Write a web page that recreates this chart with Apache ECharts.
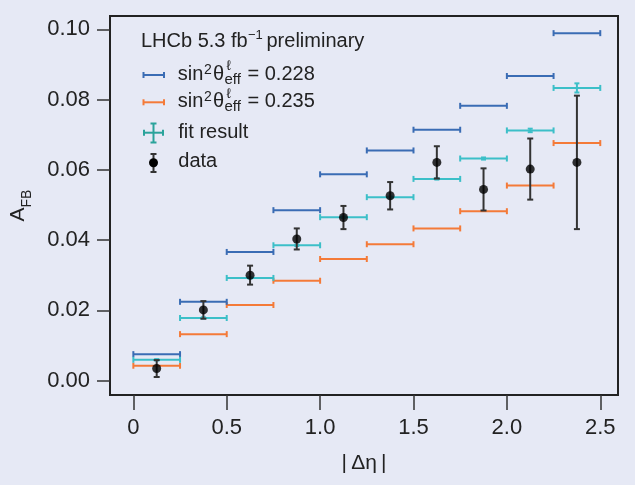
<!DOCTYPE html>
<html><head><meta charset="utf-8">
<script src="https://cdn.jsdelivr.net/npm/echarts@6/dist/echarts.min.js"></script>
<style>html,body{margin:0;padding:0;background:#e6e9f5}#c{width:635px;height:485px}</style>
</head><body><div id="c"></div>
<script>
// ---- data ----
const binLow  = [0, 0.25, 0.5, 0.75, 1.0, 1.25, 1.5, 1.75, 2.0, 2.25];
const binHigh = [0.25, 0.5, 0.75, 1.0, 1.25, 1.5, 1.75, 2.0, 2.25, 2.5];
const afb228 = [0.0075, 0.0224, 0.0366, 0.0485, 0.0587, 0.0655, 0.0714, 0.0782, 0.0867, 0.0989];
const afb235 = [0.0042, 0.0132, 0.0215, 0.0284, 0.0346, 0.0388, 0.0433, 0.0482, 0.0555, 0.0676];
const fitValues = [0.0059, 0.0178, 0.0292, 0.0385, 0.0465, 0.0522, 0.0574, 0.0632, 0.0712, 0.0833];
const fitErrors = [0.0002, 0.0002, 0.0002, 0.0002, 0.0002, 0.0002, 0.0002, 0.0003, 0.0005, 0.0013];
const dataValues = [0.0034, 0.0201, 0.0300, 0.0403, 0.0464, 0.0526, 0.0621, 0.0544, 0.0602, 0.0621];
const dataErrors = [0.0024, 0.0025, 0.0027, 0.0030, 0.0033, 0.0039, 0.0046, 0.0060, 0.0087, 0.0190];
const xTicks = [0, 0.5, 1.0, 1.5, 2.0, 2.5];
const yTicks = [0, 0.02, 0.04, 0.06, 0.08, 0.10];

const FONT = 'Liberation Sans';
const C_BLUE = '#3a6cb4', C_ORANGE = '#f47a38', C_CYAN = '#3cbfc8', C_TEAL = '#2aa39b';

function hbarRender(color) {
  return function (params, api) {
    const y = api.value(2);
    const lo = api.coord([api.value(0), y]);
    const hi = api.coord([api.value(1), y]);
    const st = { stroke: color, lineWidth: 2 };
    const ch = [
      { type: 'line', shape: { x1: lo[0], y1: lo[1], x2: hi[0], y2: hi[1] }, style: st },
      { type: 'line', shape: { x1: lo[0], y1: lo[1] - 3, x2: lo[0], y2: lo[1] + 3 }, style: st },
      { type: 'line', shape: { x1: hi[0], y1: hi[1] - 3, x2: hi[0], y2: hi[1] + 3 }, style: st }
    ];
    const e = api.value(3);
    if (e) {
      const xc = (api.value(0) + api.value(1)) / 2;
      const t = api.coord([xc, y + e]);
      const b = api.coord([xc, y - e]);
      ch.push({ type: 'line', shape: { x1: t[0], y1: t[1], x2: b[0], y2: b[1] }, style: st });
      ch.push({ type: 'line', shape: { x1: t[0] - 2.5, y1: t[1], x2: t[0] + 2.5, y2: t[1] }, style: st });
      ch.push({ type: 'line', shape: { x1: b[0] - 2.5, y1: b[1], x2: b[0] + 2.5, y2: b[1] }, style: st });
    }
    return { type: 'group', children: ch };
  };
}
function vbarRender(params, api) {
  const x = api.value(0);
  const t = api.coord([x, api.value(2)]);
  const b = api.coord([x, api.value(1)]);
  const st = { stroke: '#333', lineWidth: 2 };
  return { type: 'group', children: [
    { type: 'line', shape: { x1: t[0], y1: t[1], x2: b[0], y2: b[1] }, style: st },
    { type: 'line', shape: { x1: t[0] - 3, y1: t[1], x2: t[0] + 3, y2: t[1] }, style: st },
    { type: 'line', shape: { x1: b[0] - 3, y1: b[1], x2: b[0] + 3, y2: b[1] }, style: st }
  ]};
}

const d228 = binLow.map((l, i) => [l, binHigh[i], afb228[i], 0]);
const d235 = binLow.map((l, i) => [l, binHigh[i], afb235[i], 0]);
const dFit = binLow.map((l, i) => [l, binHigh[i], fitValues[i], fitErrors[i]]);
const centers = binLow.map((l, i) => (l + binHigh[i]) / 2);
const dErr = centers.map((c, i) => [c, dataValues[i] - dataErrors[i], dataValues[i] + dataErrors[i]]);
const dPts = centers.map((c, i) => [c, dataValues[i]]);

function txt(x, y, s, size, extra) {
  return Object.assign({ type: 'text', x: x, y: y, z: 100,
    style: { text: s, fontSize: size, fontFamily: FONT, fill: '#222', align: 'left', verticalAlign: 'middle' } }, extra || {});
}
function seg(x1, y1, x2, y2, color) {
  return { type: 'line', z: 100, shape: { x1, y1, x2, y2 }, style: { stroke: color, lineWidth: 2 } };
}
function entrySin(y, val) {
  return [
    txt(177.7, y, 'sin', 20),
    txt(204, y - 4.5, '2', 14),
    txt(213, y, 'θ', 20),
    txt(226.5, y - 8, 'ℓ', 14),
    txt(224.5, y + 5.5, 'eff', 15),
    txt(247.5, y, '= ' + val, 20)
  ];
}
function hbarIcon(y, color) {
  return [seg(143.5, y, 164, y, color), seg(143.5, y - 3, 143.5, y + 3, color), seg(164, y - 3, 164, y + 3, color)];
}

const graphic = [].concat(
  [txt(141, 41, 'LHCb 5.3 fb', 20), txt(248, 35, '−1', 13), txt(266.5, 41, 'preliminary', 20)],
  hbarIcon(75, C_BLUE), entrySin(74.5, '0.228'),
  hbarIcon(102.3, C_ORANGE), entrySin(101.8, '0.235'),
  [seg(144, 132.7, 163, 132.7, C_TEAL), seg(144, 129.7, 144, 135.7, C_TEAL), seg(163, 129.7, 163, 135.7, C_TEAL),
   seg(153.5, 123.5, 153.5, 142.5, C_TEAL), seg(150.5, 123.5, 156.5, 123.5, C_TEAL), seg(150.5, 142.5, 156.5, 142.5, C_TEAL),
   txt(178.3, 132.5, 'fit result', 20)],
  [seg(153.5, 154, 153.5, 172, '#333'), seg(150.5, 154, 156.5, 154, '#333'), seg(150.5, 172, 156.5, 172, '#333'),
   { type: 'circle', z: 101, shape: { cx: 153.5, cy: 162.7, r: 4.5 }, style: { fill: '#000' } },
   txt(178.3, 161, 'data', 20)]
);

const chart = echarts.init(document.getElementById('c'), null, { renderer: 'canvas' });
chart.setOption({
  backgroundColor: '#e6e9f5',
  animation: false,
  grid: { left: 110, right: 17, top: 16, bottom: 90, containLabel: false, outerBoundsMode: 'none',
    show: true, borderColor: '#222', borderWidth: 2, backgroundColor: 'transparent' },
  xAxis: {
    type: 'value', min: -0.125, max: 2.595,
    axisLine: { show: false, onZero: false }, splitLine: { show: false },
    axisTick: { show: true, inside: false, customValues: xTicks, length: 15, lineStyle: { color: '#333', width: 1.5 } },
    axisLabel: { customValues: xTicks, fontSize: 22, fontFamily: FONT, color: '#222', margin: 22,
      formatter: v => (Math.abs(v) < 1e-9 ? '0' : v.toFixed(1)) },
    name: '|\u2009Δη\u2009|', nameLocation: 'middle', nameGap: 58, nameMoveOverlap: false,
    nameTextStyle: { fontSize: 21, fontFamily: FONT, color: '#222' }
  },
  yAxis: {
    type: 'value', min: -0.00413, max: 0.10378,
    axisLine: { show: false, onZero: false }, splitLine: { show: false },
    axisTick: { show: true, inside: false, customValues: yTicks, length: 13, lineStyle: { color: '#333', width: 1.5 } },
    axisLabel: { customValues: yTicks, fontSize: 22, fontFamily: FONT, color: '#222', margin: 20,
      formatter: v => v.toFixed(2) },
    name: '{a|A}{b|FB}', nameLocation: 'middle', nameGap: 76, nameRotate: 90, nameMoveOverlap: false,
    nameTextStyle: { color: '#222', rich: {
      a: { fontSize: 21, fontFamily: FONT, color: '#222', lineHeight: 26, verticalAlign: 'top' },
      b: { fontSize: 14, fontFamily: FONT, color: '#222', lineHeight: 14, verticalAlign: 'bottom' } } }
  },
  series: [
    { type: 'custom', name: 'sin2 0.235', renderItem: hbarRender(C_ORANGE), data: d235, encode: { x: [0, 1], y: 2 }, z: 2 },
    { type: 'custom', name: 'sin2 0.228', renderItem: hbarRender(C_BLUE), data: d228, encode: { x: [0, 1], y: 2 }, z: 2 },
    { type: 'custom', name: 'fit result', renderItem: hbarRender(C_CYAN), data: dFit, encode: { x: [0, 1], y: 2 }, z: 3 },
    { type: 'custom', name: 'data err', renderItem: vbarRender, data: dErr, encode: { x: 0, y: [1, 2] }, z: 4 },
    { type: 'scatter', name: 'data', data: dPts, symbol: 'circle', symbolSize: 9, itemStyle: { color: '#000' }, z: 5 }
  ],
  graphic: graphic
});
</script>
</body></html>
